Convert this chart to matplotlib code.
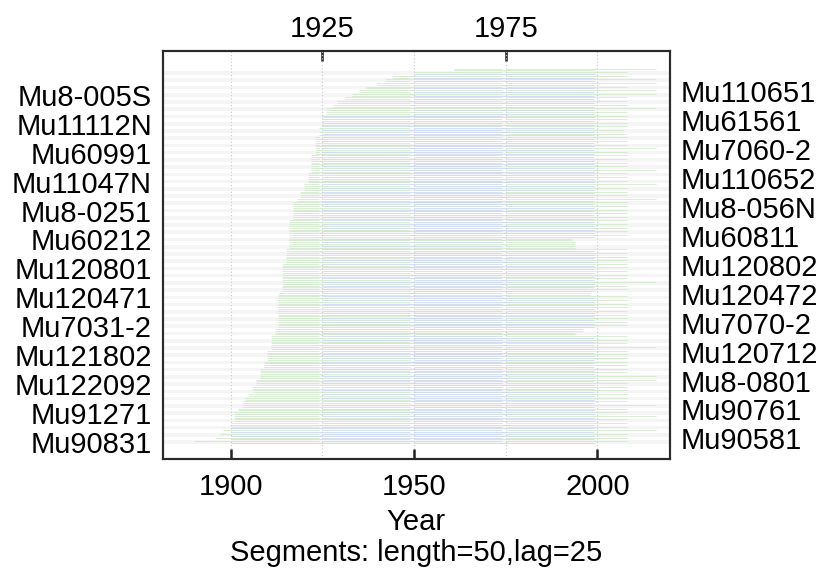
import matplotlib
matplotlib.use("Agg")
import matplotlib.pyplot as plt

# Segment settings used for the correlation windows
seg_length = 50
seg_lag = 25
bin_starts = [1875, 1900, 1925, 1950, 1975]

# First and last year of every series, listed from the bottom row to the top row
first_years = [
    1890, 1896, 1897, 1898, 1900, 1900, 1901, 1901, 1901, 1902,
    1903, 1903, 1904, 1905, 1906, 1906, 1907, 1907, 1908, 1908,
    1908, 1909, 1909, 1910, 1910, 1910, 1911, 1911, 1911, 1911,
    1912, 1912, 1913, 1913, 1913, 1913, 1913, 1913, 1913, 1913,
    1913, 1913, 1914, 1914, 1914, 1914, 1914, 1914, 1914, 1914,
    1915, 1915, 1915, 1915, 1916, 1916, 1916, 1916, 1916, 1916,
    1916, 1916, 1917, 1917, 1917, 1917, 1917, 1918, 1919, 1919,
    1920, 1920, 1921, 1921, 1921, 1922, 1922, 1922, 1922, 1922,
    1923, 1923, 1923, 1923, 1923, 1924, 1924, 1924, 1925, 1925,
    1925, 1926, 1926, 1928, 1929, 1931, 1933, 1935, 1937, 1940,
    1942, 1944, 1950, 1961,
]
last_years = [
    2008, 2008, 2008, 2016, 2008, 2008, 2008, 2016, 2008, 2008,
    2016, 2008, 2008, 2008, 2008, 2008, 2008, 2016, 2016, 2008,
    2008, 2008, 2008, 2008, 2008, 2008, 2016, 2008, 2008, 2008,
    1994, 1996, 2008, 2008, 2008, 2008, 2008, 2008, 2008, 2008,
    2008, 1998, 2008, 2008, 2016, 2008, 2008, 2008, 2008, 2008,
    2008, 2008, 2008, 2008, 1994, 1994, 1993, 2008, 2008, 2008,
    2008, 2008, 2008, 2008, 2008, 2008, 2008, 2016, 2008, 2008,
    2008, 2016, 2008, 2008, 2008, 2016, 2008, 2008, 2008, 2008,
    2008, 2016, 2008, 2008, 2008, 2008, 2007, 2008, 2008, 2008,
    2008, 2008, 2016, 2008, 2008, 2008, 2016, 2016, 2008, 2016,
    2016, 2008, 2008, 2016,
]

# Series names shown on each side (bottom to top)
left_names = ["Mu90831", "Mu91271", "Mu122092", "Mu121802", "Mu7031-2",
              "Mu120471", "Mu120801", "Mu60212", "Mu8-0251", "Mu11047N",
              "Mu60991", "Mu11112N", "Mu8-005S"]
right_names = ["Mu90581", "Mu90761", "Mu8-0801", "Mu120712", "Mu7070-2",
               "Mu120472", "Mu120802", "Mu60811", "Mu8-056N", "Mu110652",
               "Mu7060-2", "Mu61561", "Mu110651"]

bottom_ticks = [1900, 1950, 2000]
top_ticks = [1925, 1975]

col_ok = "#c4d4ee"        # complete overlap
col_partial = "#cbe7c4"   # incomplete overlap
band_col = "#f5f5f5"
font = "Liberation Sans"
fs = 21

fig = plt.figure(figsize=(8.21, 5.69), dpi=100)
ax = fig.add_axes([163 / 821, 110 / 569, 507 / 821, 408 / 569])

nseries = len(first_years)

# shaded band behind every other series
for i in range(1, nseries + 1, 2):
    ax.axhspan(i - 0.5, i + 0.5, color=band_col, lw=0, zorder=0)

# dotted bin boundaries
for b in bin_starts[1:] + [bin_starts[-1] + seg_lag]:
    ax.axvline(b, color="#c8c8c8", lw=0.8, ls=(0, (1, 2)), zorder=1)

# correlation segments, odd bins above the centre line, even bins below
for idx, (fy, ly) in enumerate(zip(first_years, last_years)):
    i = idx + 1
    for j, bs in enumerate(bin_starts):
        be = bs + seg_length - 1
        x0, x1 = max(bs, fy), min(be, ly)
        if x0 > x1:
            continue
        complete = fy <= bs and ly >= be
        y = i + 0.25 if j % 2 == 0 else i - 0.25
        ax.hlines(y, x0, x1, color=col_ok if complete else col_partial,
                  lw=0.5, zorder=2)

ax.set_xlim(1881.5, 2019.8)
ax.set_ylim(-3.69, 109.1)

# name labels: odd rows on the left, even rows on the right
left_pos = [1 + 8 * k for k in range(len(left_names))]
right_pos = [2 + 8 * k for k in range(len(right_names))]
ax.set_yticks(left_pos, left_names)
ax.tick_params(axis="y", length=0, pad=8, labelsize=fs)

ax2 = ax.twinx()
ax2.set_ylim(ax.get_ylim())
ax2.set_yticks(right_pos, right_names)
ax2.tick_params(axis="y", length=0, pad=8, labelsize=fs)

ax.set_xticks(bottom_ticks, [str(t) for t in bottom_ticks])
ax.tick_params(axis="x", direction="in", length=7, width=1.8, pad=10,
               labelsize=fs, color="#222222")
top = ax.secondary_xaxis("top")
top.set_xticks(top_ticks, [str(t) for t in top_ticks])
top.tick_params(axis="x", direction="in", length=7, width=1.8, pad=6,
                labelsize=fs, color="#222222")
top.spines["top"].set_visible(False)

for a in (ax, ax2):
    for s in a.spines.values():
        s.set_linewidth(1.5)
        s.set_color("#2a2a2a")

for lab in (ax.get_xticklabels() + ax.get_yticklabels() + ax2.get_yticklabels()
            + top.get_xticklabels()):
    lab.set_fontfamily(font)

fig.text(416 / 821, 1 - 522 / 569, "Year", ha="center", va="center",
         fontsize=fs, family=font)
fig.text(416 / 821, 1 - 553 / 569,
         f"Segments: length={seg_length},lag={seg_lag}",
         ha="center", va="center", fontsize=fs, family=font)

fig.savefig("out.png", dpi=100)
